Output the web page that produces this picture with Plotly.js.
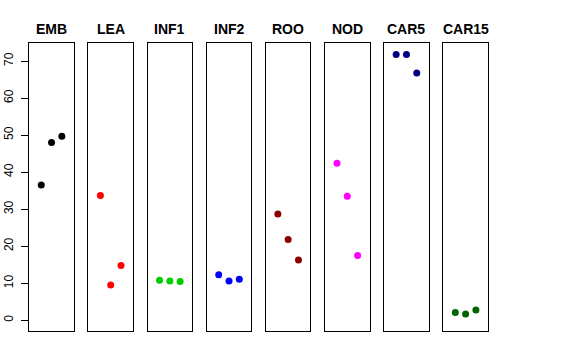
<!DOCTYPE html>
<html>
<head>
<meta charset="utf-8">
<script src="https://cdn.plot.ly/plotly-3.0.1.min.js"></script>
<style>html,body{margin:0;padding:0;background:#fff;}#chart{width:576px;height:360px;}</style>
</head>
<body>
<div id="chart"></div>
<script>
var panels = ["EMB", "LEA", "INF1", "INF2", "ROO", "NOD", "CAR5", "CAR15"];
var colors = ["#000000", "#FF0000", "#00CD00", "#0000FF", "#8B0000", "#FF00FF", "#000080", "#006400"];
var replicate = [1, 2, 3];
var EMB = [36.5, 48.0, 49.7];
var LEA = [33.7, 9.5, 14.8];
var INF1 = [10.8, 10.6, 10.5];
var INF2 = [12.3, 10.6, 11.1];
var ROO = [28.7, 21.8, 16.3];
var NOD = [42.4, 33.5, 17.5];
var CAR5 = [71.8, 71.8, 66.8];
var CAR15 = [2.1, 1.7, 2.8];
var series = [EMB, LEA, INF1, INF2, ROO, NOD, CAR5, CAR15];
var yTicks = [0, 10, 20, 30, 40, 50, 60, 70];

var W = 576, H = 360;
var firstLeft = 29.3, boxW = 44.5, step = 59.15;
var boxTop = 43.3, boxBottom = 331;
var yDom = [1 - boxBottom / H, 1 - boxTop / H];

var traces = [];
var layout = {
  width: W, height: H,
  margin: {l: 0, r: 0, t: 0, b: 0},
  paper_bgcolor: "#fff", plot_bgcolor: "#fff",
  showlegend: false,
  font: {family: "Liberation Sans, Arial, sans-serif", color: "#000"},
  annotations: []
};
for (var i = 0; i < panels.length; i++) {
  var n = i === 0 ? "" : String(i + 1);
  traces.push({
    type: "scatter", mode: "markers",
    x: replicate, y: series[i],
    xaxis: "x" + n, yaxis: "y" + n,
    marker: {color: colors[i], size: 7},
    hoverinfo: "skip"
  });
  var l = firstLeft + i * step;
  layout["xaxis" + n] = {
    domain: [l / W, (l + boxW) / W],
    range: [-0.16, 4.16],
    anchor: "y" + n,
    showgrid: false, zeroline: false, showticklabels: false, ticks: "",
    showline: true, mirror: true, linecolor: "#000", linewidth: 1
  };
  var ya = {
    domain: yDom,
    range: [-2.9, 74.8],
    anchor: "x" + n,
    showgrid: false, zeroline: false,
    showline: true, mirror: true, linecolor: "#000", linewidth: 1
  };
  if (i === 0) {
    ya.tickmode = "array";
    ya.tickvals = yTicks;
    ya.ticktext = yTicks.map(String);
    ya.ticks = "outside";
    ya.ticklen = 7;
    ya.tickcolor = "#000";
    ya.tickangle = -90;
    ya.tickfont = {size: 12, color: "#000"};
    ya.ticklabelstandoff = 4;
  } else {
    ya.showticklabels = false;
    ya.ticks = "";
  }
  layout["yaxis" + n] = ya;
  layout.annotations.push({
    text: "<b>" + panels[i] + "</b>",
    xref: "paper", yref: "paper",
    x: (l + boxW / 2) / W, y: 1 - 29 / H,
    xanchor: "center", yanchor: "middle",
    showarrow: false,
    font: {size: 14, color: "#000", family: "Liberation Sans, Arial, sans-serif"}
  });
}
Plotly.newPlot("chart", traces, layout, {staticPlot: true, displayModeBar: false});
</script>
</body>
</html>
